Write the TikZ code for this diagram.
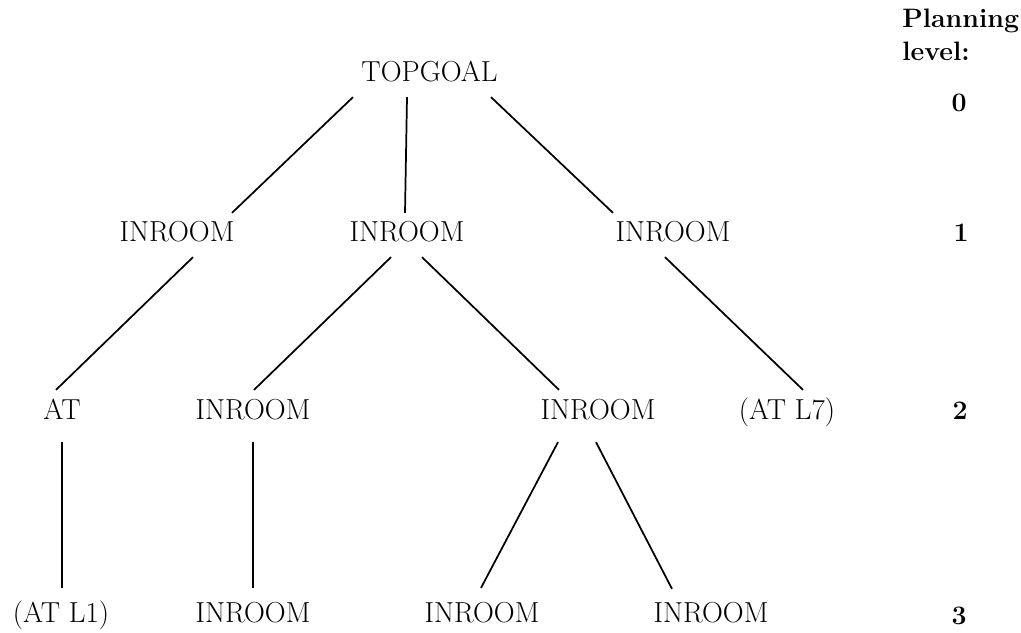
\documentclass[tikz,border=0pt]{standalone}
\usepackage{amssymb, mathtools, amsmath}
\usepackage{tikz}
\usetikzlibrary{calc}

\begin{document}
\begin{tikzpicture}[x=0.75pt,y=0.75pt,yscale=-1,
  goal/.style={inner sep=0pt, text height=14.8pt, text depth=0pt, font=\fontsize{21.7}{26}\selectfont},
  lvl/.style={inner sep=0pt, font=\fontsize{20}{24}\selectfont\bfseries},
  edge/.style={line width=1.3pt}]
%set diagram left start at 0, and has height of 632
\useasboundingbox (0,0) rectangle (1021,632);

% Text Node
\node [goal] (top) at (429.5,72) {TOPGOAL};
% Text Node
\node [goal] (a1) at (177,232) {INROOM};
% Text Node
\node [goal] (a2) at (407,232) {INROOM};
% Text Node
\node [goal] (a3) at (673,232) {INROOM};
% Text Node
\node [goal] (b1) at (62,410) {AT};
% Text Node
\node [goal] (b2) at (253,410) {INROOM};
% Text Node
\node [goal] (b3) at (598,410) {INROOM};
% Text Node
\node [goal] (b4) at (787,410) {(AT L7)};
% Text Node
\node [goal] (c1) at (61,613) {(AT L1)};
% Text Node
\node [goal] (c2) at (253,613) {INROOM};
% Text Node
\node [goal] (c3) at (482,613) {INROOM};
% Text Node
\node [goal] (c4) at (711,613) {INROOM};

% Text Node
\node [lvl, anchor=base west] (plan) at (902,27) {Planning};
% Text Node
\node [lvl, anchor=base west] (level) at (902,60) {level:};
% Text Node
\node [lvl] (n0) at (959,103) {0};
% Text Node
\node [lvl] (n1) at (961,233) {1};
% Text Node
\node [lvl] (n2) at (960,411) {2};
% Text Node
\node [lvl] (n3) at (959,616) {3};

%Straight Lines
\draw [edge] ($(top.south)+(-76.5,15)$) -- ($(a1.north)+(55,-9)$) ;
%Straight Lines
\draw [edge] ($(top.south)+(-22.5,15)$) -- ($(a2.north)+(-2,-9)$) ;
%Straight Lines
\draw [edge] ($(top.south)+(61.5,15)$) -- ($(a3.north)+(-60,-9)$) ;
%Straight Lines
\draw [edge] ($(a1.south)+(16,15)$) -- ($(b1.north)+(-6,-10)$) ;
%Straight Lines
\draw [edge] ($(a2.south)+(-16,15)$) -- ($(b2.north)+(1,-10)$) ;
%Straight Lines
\draw [edge] ($(a2.south)+(15,15)$) -- ($(b3.north)+(-39,-10)$) ;
%Straight Lines
\draw [edge] ($(a3.south)+(-8,15)$) -- ($(b4.north)+(16,-10)$) ;
%Straight Lines
\draw [edge] ($(b1.south)+(0,22)$) -- ($(c1.north)+(1,-15)$) ;
%Straight Lines
\draw [edge] ($(b2.south)+(0,22)$) -- ($(c2.north)+(0,-15)$) ;
%Straight Lines
\draw [edge] ($(b3.south)+(-40,22)$) -- ($(c3.north)+(-1,-15)$) ;
%Straight Lines
\draw [edge] ($(b3.south)+(-2,22)$) -- ($(c4.north)+(-39,-14)$) ;

\end{tikzpicture}
\end{document}
